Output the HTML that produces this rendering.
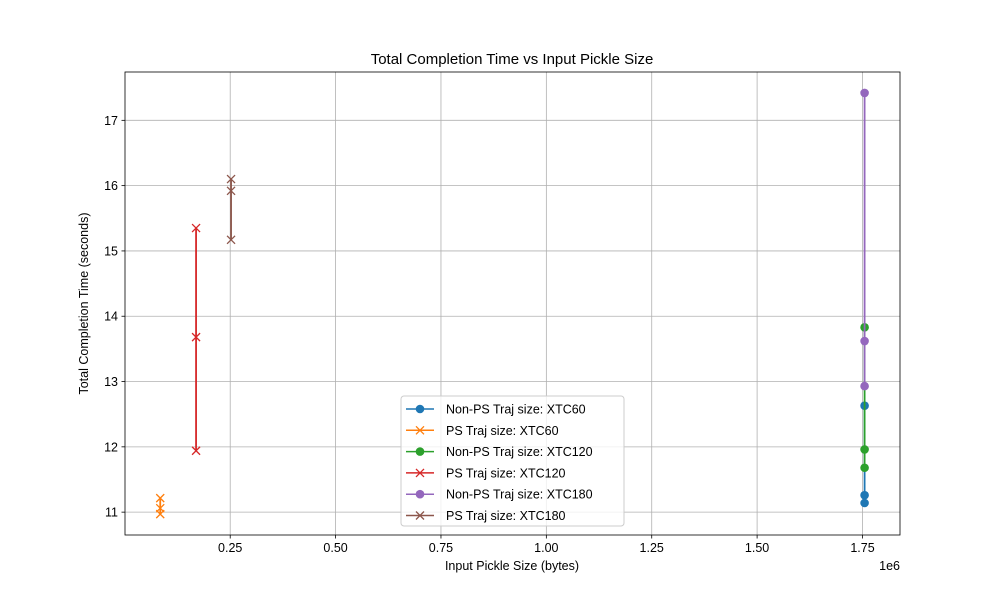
<!DOCTYPE html>
<html><head><meta charset="utf-8"><style>body{margin:0;background:#fff}svg{display:block;font-family:"Liberation Sans","DejaVu Sans",sans-serif}</style></head>
<body>
<svg id="c" width="1000" height="600"></svg>
<script>
const seriesNames=["Non-PS Traj size: XTC60","PS Traj size: XTC60","Non-PS Traj size: XTC120","PS Traj size: XTC120","Non-PS Traj size: XTC180","PS Traj size: XTC180"];
const seriesX=[1.755e6,0.084e6,1.755e6,0.169e6,1.755e6,0.252e6];
const yXTC60=[11.14,11.26,12.63];
const yPS60=[11.215,11.06,10.97];
const yXTC120=[11.68,11.96,13.83];
const yPS120=[15.35,13.68,11.94];
const yXTC180=[12.93,13.62,17.42];
const yPS180=[16.10,15.92,15.17];
const seriesY=[yXTC60,yPS60,yXTC120,yPS120,yXTC180,yPS180];
const colors=["#1f77b4","#ff7f0e","#2ca02c","#d62728","#9467bd","#8c564b"];
const markers=["o","x","o","x","o","x"];
const xTicks=[0.25e6,0.5e6,0.75e6,1.0e6,1.25e6,1.5e6,1.75e6];
const xTickLabels=["0.25","0.50","0.75","1.00","1.25","1.50","1.75"];
const yTicks=[11,12,13,14,15,16,17];
const L=125,R=900,T=72,B=535;
const xmin=0.0004e6,xmax=1.839e6,ymin=10.65,ymax=17.74;
const X=v=>L+(v-xmin)/(xmax-xmin)*(R-L);
const Y=v=>B-(v-ymin)/(ymax-ymin)*(B-T);
const svg=document.getElementById('c');const NS="http://www.w3.org/2000/svg";
function mk(t,a,p){const e=document.createElementNS(NS,t);for(const k in a)e.setAttribute(k,a[k]);(p||svg).appendChild(e);return e;}
const grid=mk('g',{});


xTicks.forEach((t,i)=>{const x=X(t);
mk('line',{x1:x,x2:x,y1:T,y2:B,stroke:'#b0b0b0','stroke-width':0.8},grid);
mk('line',{x1:x,x2:x,y1:B,y2:B+3.5,stroke:'#000','stroke-width':0.8});
const tx=mk('text',{x:x,y:B+17,'text-anchor':'middle','font-size':12.5});tx.textContent=xTickLabels[i];

});
yTicks.forEach(t=>{const y=Y(t);
mk('line',{x1:L,x2:R,y1:y,y2:y,stroke:'#b0b0b0','stroke-width':0.8},grid);
mk('line',{x1:L-3.5,x2:L,y1:y,y2:y,stroke:'#000','stroke-width':0.8});
const tx=mk('text',{x:L-7,y:y+4.5,'text-anchor':'end','font-size':12.5});tx.textContent=t;

});
function marker(g,m,x,y,c){if(m==='o')mk('circle',{cx:x,cy:y,r:4.3,fill:c},g);else{mk('path',{d:`M${x-4},${y-4}L${x+4},${y+4}M${x-4},${y+4}L${x+4},${y-4}`,stroke:c,'stroke-width':1.3,fill:'none'},g);}}
seriesNames.forEach((n,i)=>{const g=mk('g',{});


const pts=seriesY[i].map(v=>X(seriesX[i])+','+Y(v)).join(' ');
mk('polyline',{points:pts,fill:'none',stroke:colors[i],'stroke-width':1.8},g);
seriesY[i].forEach(v=>marker(g,markers[i],X(seriesX[i]),Y(v),colors[i]));});
mk('rect',{x:L,y:T,width:R-L,height:B-T,fill:'none',stroke:'#000','stroke-width':0.8});
const lg=mk('g',{});


mk('rect',{x:401,y:396,width:223,height:130,rx:3,fill:'#fff','fill-opacity':0.8,stroke:'#ccc'},lg);
seriesNames.forEach((n,i)=>{const y=409+i*21.3;
mk('line',{x1:406,x2:434,y1:y,y2:y,stroke:colors[i],'stroke-width':1.5},lg);
marker(lg,markers[i],420,y,colors[i]);
const t=mk('text',{x:446,y:y+4.5,'font-size':12.5},lg);t.textContent=n;

});
function txt(s,a,name){const t=mk('text',a);t.textContent=s;return t;}
txt('Total Completion Time vs Input Pickle Size',{x:512,y:64,'text-anchor':'middle','font-size':15},'chart-title');
txt('Input Pickle Size (bytes)',{x:512,y:570,'text-anchor':'middle','font-size':12.5},'x-axis-title');
txt('Total Completion Time (seconds)',{x:0,y:0,'text-anchor':'middle','font-size':12.5,transform:`translate(88,${(T+B)/2}) rotate(-90)`},'y-axis-title');
txt('1e6',{x:900,y:570,'text-anchor':'end','font-size':12.5},'x-axis-offset');
</script>
</body></html>
